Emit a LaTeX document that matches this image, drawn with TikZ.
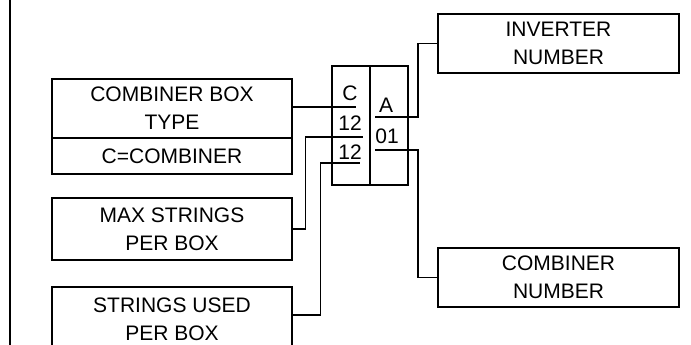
\documentclass[tikz,border=0pt]{standalone}
\usepackage{fontspec}
\setmainfont{Liberation Sans}
\usetikzlibrary{positioning}

\begin{document}
\begin{tikzpicture}[x=1pt, y=-1pt, line width=1.1pt,
        infobox/.style={rectangle, draw=black, align=center, inner sep=0pt,
            font=\fontsize{21}{28}\selectfont},
        code/.style={inner sep=0pt, font=\fontsize{21}{24}\selectfont}
    ]
        \useasboundingbox (0,0) rectangle (691,345);
        \clip (0,0) rectangle (691,345);

        % Frame edge
        \draw (10,0) -- (10,345);

        % Left boxes
        \node[infobox, minimum width=240pt, minimum height=59pt] (cbtype) at (172,108.5) {COMBINER BOX\\TYPE};
        \node[infobox, minimum width=240pt, minimum height=36pt] (cbsub) at (172,156) {C=COMBINER};
        \node[infobox, minimum width=240pt, minimum height=62pt] (maxstr) at (172,229) {MAX STRINGS\\PER BOX};
        \node[infobox, minimum width=240pt, minimum height=64pt] (strused) at (172,319) {STRINGS USED\\PER BOX};

        % Code block
        \node[draw, minimum width=76pt, minimum height=119pt, inner sep=0pt] (codebox) at (370,125.5) {};
        \draw (codebox.north) -- (codebox.south);
        \node[code] (lblC) at (350,93) {C};
        \node[code] (lblTwelveA) at (350,123) {12};
        \node[code] (lblTwelveB) at (350,152) {12};
        \node[code] (lblA) at (386,105) {A};
        \node[code] (lblZeroOne) at (387,136) {01};

        % Right boxes
        \node[infobox, minimum width=241pt, minimum height=59pt] (inv) at (558.5,43.5) {INVERTER\\NUMBER};
        \node[infobox, minimum width=241pt, minimum height=59pt] (cnum) at (558.5,277.5) {COMBINER\\NUMBER};

        % Underline ends
        \coordinate (uC) at (356,107);
        \coordinate (uTwelveA) at (363,137);
        \coordinate (uTwelveB) at (360,163);
        \coordinate (uA) at (375,117);
        \coordinate (uZeroOne) at (375,150);

        % Connections
        \draw (cbtype.east |- uC) -- (uC);
        \draw (maxstr.east) -- ++(13,0) |- (uTwelveA);
        \draw (strused.east) ++(0,-4) -- ++(28,0) |- (uTwelveB);
        \draw (uA) -- ++(43,0) |- (inv.west);
        \draw (uZeroOne) -- ++(43,0) |- (cnum.west);

    \end{tikzpicture}
\end{document}
